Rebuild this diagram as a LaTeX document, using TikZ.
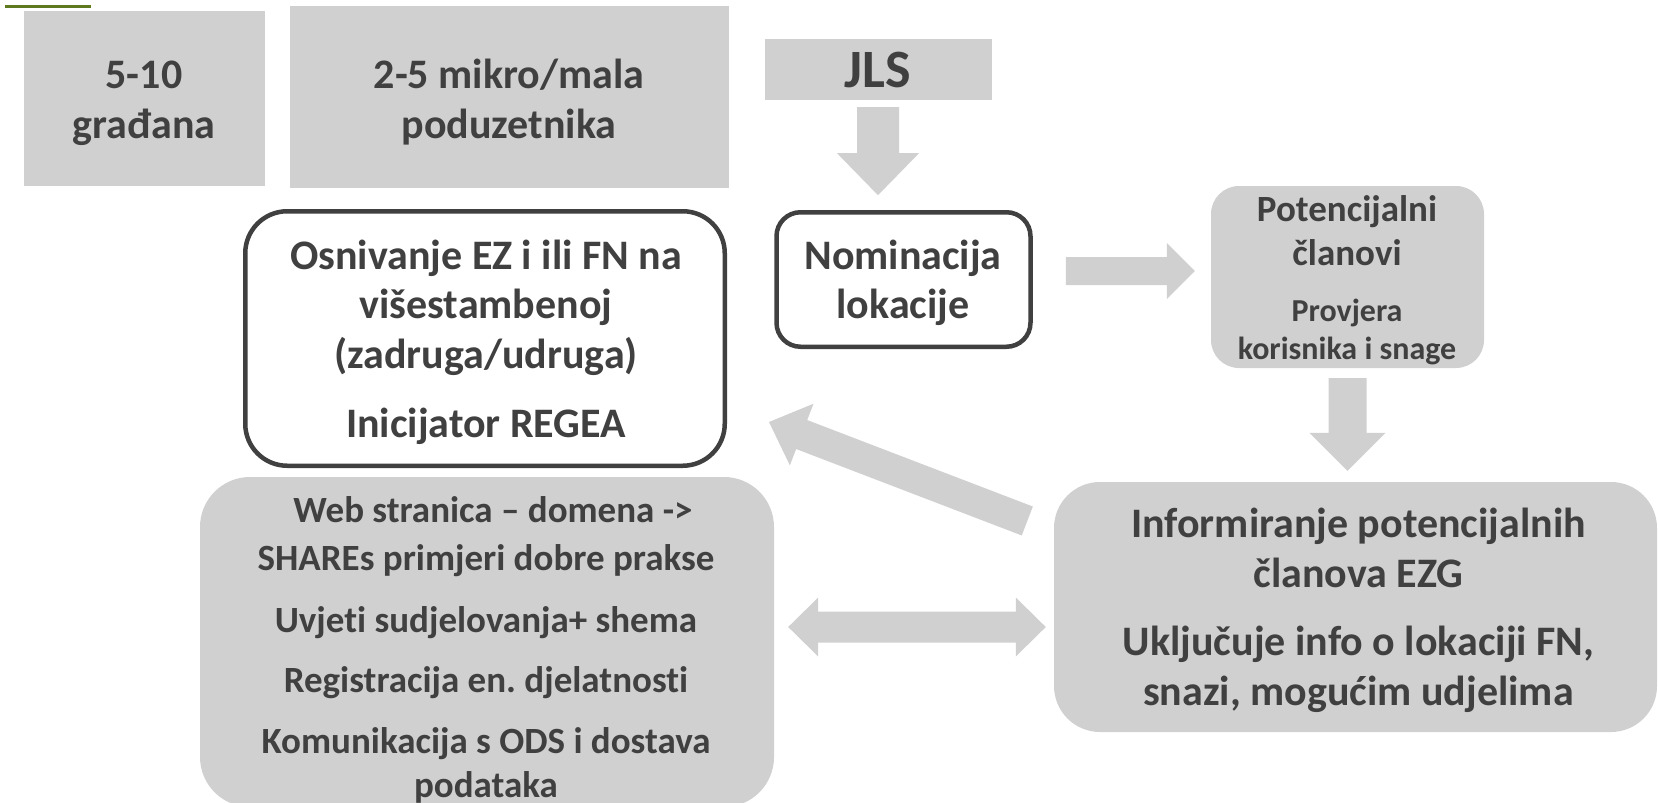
\documentclass[tikz,border=0pt]{standalone}
\usepackage{fontspec}
\setmainfont{Carlito}[Ligatures={NoCommon}]
\frenchspacing
\usetikzlibrary{calc}
\definecolor{boxgray}{RGB}{208,208,208}
\definecolor{txtgray}{RGB}{64,64,64}
\definecolor{topgreen}{RGB}{95,122,30}
\tikzset{
  gbox/.style={fill=boxgray, draw=none, inner sep=0pt},
  wbox/.style={fill=white, draw=txtgray, line width=4.5pt, inner sep=0pt},
  lbl/.style={text=txtgray, anchor=base, inner sep=0pt},
  fA/.style={font=\fontsize{42}{50}\selectfont\bfseries},
  fB/.style={font=\fontsize{37}{45}\selectfont\bfseries},
  fC/.style={font=\fontsize{32}{38}\selectfont\bfseries},
  fJ/.style={font=\fontsize{54}{60}\selectfont\bfseries},
  arrowfill/.style={fill=boxgray, draw=none},
}
% block arrow: #1 tail, #2 tip, #3 half shaft, #4 half head, #5 head length
\newcommand\blkarrow[5]{%
  \coordinate (ba-hb) at ($(#2)!#5!(#1)$);
  \fill[arrowfill] ($(#1)!#3!90:(#2)$) -- ($(ba-hb)!#3!-90:(#1)$) -- ($(ba-hb)!#4!-90:(#1)$) -- (#2)
    -- ($(ba-hb)!#4!90:(#1)$) -- ($(ba-hb)!#3!90:(#1)$) -- ($(#1)!#3!-90:(#2)$) -- cycle;
}
% double block arrow: #1 tip A, #2 tip B
\newcommand\dblarrow[5]{%
  \coordinate (da-ha) at ($(#1)!#5!(#2)$);
  \coordinate (da-hb) at ($(#2)!#5!(#1)$);
  \fill[arrowfill] (#1) -- ($(da-ha)!#4!90:(#2)$) -- ($(da-ha)!#3!90:(#2)$) -- ($(da-hb)!#3!-90:(#1)$)
    -- ($(da-hb)!#4!-90:(#1)$) -- (#2) -- ($(da-hb)!#4!90:(#1)$) -- ($(da-hb)!#3!90:(#1)$)
    -- ($(da-ha)!#3!-90:(#2)$) -- ($(da-ha)!#4!-90:(#2)$) -- cycle;
}
\begin{document}
\begin{tikzpicture}[x=1pt,y=-1pt]
\useasboundingbox (0,0) rectangle (1658,803);
\draw[topgreen, line width=3pt] (5,6.5) -- (91,6.5);

% boxes
\node[gbox, minimum width=241pt, minimum height=175pt] (gr) at (144.5,98.5) {};
\node[gbox, minimum width=439pt, minimum height=182pt] (pod) at (509.5,97) {};
\node[gbox, minimum width=227pt, minimum height=61pt] (jls) at (878.5,69.5) {};
\node[wbox, rounded corners=24pt, minimum width=254pt, minimum height=134.5pt] (nom) at (903.5,279.5) {};
\node[wbox, rounded corners=42pt, minimum width=479.5pt, minimum height=254.5pt] (osn) at (485,338.5) {};
\node[gbox, rounded corners=28pt, minimum width=273pt, minimum height=182pt] (pot) at (1347.5,277) {};
\node[gbox, rounded corners=50pt, minimum width=574pt, minimum height=330pt] (web) at (487,642) {};
\node[gbox, rounded corners=46pt, minimum width=603pt, minimum height=250pt] (inf) at (1355.5,607) {};

% texts
\node[lbl,fA] (gr1) at (144,88) {5-10};
\node[lbl,fA] (gr2) at (144,138) {građana};
\node[lbl,fA] (pod1) at (509,88) {2-5 mikro/mala};
\node[lbl,fA] (pod2) at (509,138) {poduzetnika};
\node[lbl,fJ] (jls1) at (878,87) {JLS};
\node[lbl,fA] (nom1) at (903,269) {Nominacija};
\node[lbl,fA] (nom2) at (903,318) {lokacije};
\node[lbl,fA] (osn1) at (486,269) {Osnivanje EZ i ili FN na};
\node[lbl,fA] (osn2) at (486,318) {višestambenoj};
\node[lbl,fA] (osn3) at (486,368) {(zadruga/udruga)};
\node[lbl,fA] (osn4) at (486,437) {Inicijator REGEA};
\node[lbl,fB] (pot1) at (1347,221) {Potencijalni};
\node[lbl,fB] (pot2) at (1347,265) {članovi};
\node[lbl,fC] (pot3) at (1347,321) {Provjera};
\node[lbl,fC] (pot4) at (1347,359) {korisnika i snage};
\node[lbl,fA] (inf1) at (1358.5,537) {Informiranje potencijalnih};
\node[lbl,fA] (inf2) at (1358.5,587) {članova EZG};
\node[lbl,fA] (inf3) at (1358.5,655) {Uključuje info o lokaciji FN,};
\node[lbl,fA] (inf4) at (1358.5,705) {snazi, mogućim udjelima};
\node[lbl,fB] (web1) at (493,522) {Web stranica – domena ->};
\node[lbl,fB] (web2) at (486,570) {SHAREs primjeri dobre prakse};
\node[lbl,fB] (web3) at (486,632) {Uvjeti sudjelovanja+ shema};
\node[lbl,fB] (web4) at (486,692) {Registracija en. djelatnosti};
\node[lbl,fB] (web5) at (486,753) {Komunikacija s ODS i dostava};
\node[lbl,fB] (web6) at (486,797) {podataka};

% arrow end points relative to nodes
\coordinate (a1s) at ($(jls.south)+(-0.5,7)$);
\coordinate (a1e) at ($(jls.south)+(-0.5,95)$);
\coordinate (a2s) at ($(nom.east)+(33,-8.5)$);
\coordinate (a2e) at ($(pot.west)+(-16,-6)$);
\coordinate (a3s) at ($(pot.south)+(0,10)$);
\coordinate (a3e) at ($(inf.north)+(-8,-11)$);
\coordinate (a4s) at ($(inf.west)+(-26.5,-86)$);
\coordinate (a4e) at ($(osn.east)+(42,83.5)$);
\coordinate (a5s) at ($(web.east)+(14,-15)$);
\coordinate (a5e) at ($(inf.west)+(-8,20)$);

\blkarrow{a1s}{a1e}{21pt}{41pt}{42pt}
\blkarrow{a2s}{a2e}{14pt}{28pt}{28pt}
\blkarrow{a3s}{a3e}{19pt}{38pt}{38pt}
\blkarrow{a4s}{a4e}{15.5pt}{33pt}{35pt}
\dblarrow{a5s}{a5e}{15.5pt}{29.5pt}{30pt}
\end{tikzpicture}
\end{document}
